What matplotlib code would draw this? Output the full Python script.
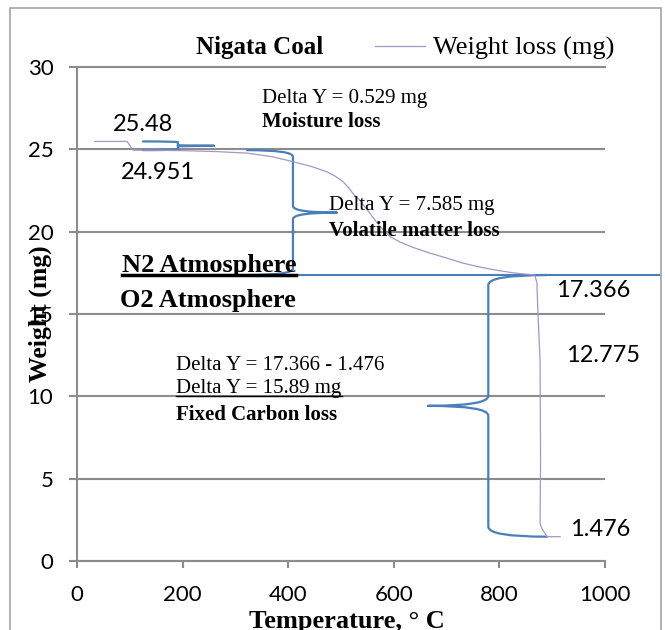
import matplotlib
matplotlib.use("Agg")
import matplotlib.pyplot as plt
from matplotlib.path import Path
from matplotlib.patches import PathPatch, Rectangle
from matplotlib.lines import Line2D

# TGA curve of Nigata coal
temperature = [34, 95, 106, 150, 200, 260, 322, 370, 409, 445, 473, 490, 504,
               515, 523, 536, 555, 574, 593, 613, 636, 668, 700, 730, 763, 796,
               826, 850, 867, 871, 873, 877, 878, 877, 880, 890, 915]
weight = [25.48, 25.48, 24.951, 24.94, 24.92, 24.87, 24.77, 24.55, 24.25, 23.95,
          23.64, 23.35, 23.03, 22.65, 22.3, 21.9, 21.1, 20.3, 19.7, 19.35, 19.05,
          18.7, 18.4, 18.1, 17.85, 17.65, 17.5, 17.42, 17.366, 16.9, 15.05, 12.2,
          6.1, 2.3, 2.0, 1.476, 1.476]

# characteristic weights (mg)
w_start = 25.48
w_dry = 24.951
w_char = 17.366
w_ash = 1.476

y_ticks = [0, 5, 10, 15, 20, 25, 30]
x_ticks = [0, 200, 400, 600, 800, 1000]

SERIF = "Liberation Serif"
SANS = "Lato"
GRID = "#8c8c8c"
BLUE = "#4a7ebb"
PURPLE = "#a397c6"


def draw_brace(ax, x_line, x_arm, x_tip, y_top, y_bot, ry):
    y_mid = (y_top + y_bot) / 2
    verts = [(x_arm, y_top), (x_line, y_top), (x_line, y_top - ry),
             (x_line, y_mid + ry), (x_line, y_mid), (x_tip, y_mid),
             (x_arm, y_bot), (x_line, y_bot), (x_line, y_bot + ry),
             (x_line, y_mid - ry), (x_line, y_mid), (x_tip, y_mid)]
    codes = [Path.MOVETO, Path.CURVE3, Path.CURVE3,
             Path.LINETO, Path.CURVE3, Path.CURVE3] * 2
    patch = PathPatch(Path(verts, codes), fill=False, edgecolor=BLUE,
                      linewidth=1.6, capstyle="round", zorder=3)
    patch.set_clip_on(False)
    ax.add_patch(patch)


fig = plt.figure(figsize=(6.65, 6.3), dpi=100)
ax = fig.add_axes([77 / 665, 1 - 561 / 630, 528 / 665, 494 / 630])

ax.plot(temperature, weight, color=PURPLE, linewidth=0.9, label="Weight loss (mg)", zorder=4)
ax.plot([138, 1104], [w_char, w_char], color=BLUE, linewidth=1.5, clip_on=False, zorder=3)

draw_brace(ax, 191, 125, 259, w_start, w_dry, 0.05)
draw_brace(ax, 409, 322, 492, w_dry, w_char, 0.4)
draw_brace(ax, 779, 890, 665, w_char, w_ash, 0.6)

ax.set_xlim(0, 1000)
ax.set_ylim(0, 30)
ax.set_xticks(x_ticks)
ax.set_yticks(y_ticks)
ax.set_axisbelow(True)
ax.yaxis.grid(True, color=GRID, linewidth=1.5)
for side in ["left", "bottom", "top"]:
    ax.spines[side].set_color(GRID)
    ax.spines[side].set_linewidth(1.5)
ax.spines["right"].set_visible(False)
ax.tick_params(axis="y", direction="out", length=6, width=1.5, color=GRID, pad=11)
ax.tick_params(axis="x", direction="out", length=5, width=1.5, color=GRID, pad=12)
for lab in ax.get_xticklabels() + ax.get_yticklabels():
    lab.set_fontfamily(SANS)
    lab.set_fontsize(16)

# titles, legend and axis labels
ax.text(0.345, 1.040, "Nigata Coal", transform=ax.transAxes, ha="center", va="center",
        family=SERIF, fontsize=18, fontweight="bold")
ax.legend(loc="center left", bbox_to_anchor=(0.564, 1.038), frameon=False,
          handlelength=1.9, handletextpad=0.3, borderpad=0, borderaxespad=0,
          prop=dict(family=SERIF, size=19))
ax.text(-0.07, 0.5, "Weight (mg)", transform=ax.transAxes, rotation=90,
        ha="center", va="center", family=SERIF, fontsize=18.5, fontweight="bold")
ax.text(0.511, -0.1, "Temperature, \u00b0 C", transform=ax.transAxes, ha="center", va="top",
        family=SERIF, fontsize=19, fontweight="bold")


# annotations
def note(x, y, s, bold=False, size=15, family=SERIF):
    return ax.text(x, y, s, ha="left", va="center", family=family, fontsize=size,
                   fontweight="bold" if bold else "normal", clip_on=False, zorder=5)


note(350, 28.1, "Delta Y = 0.529 mg")
note(350, 26.65, "Moisture loss", bold=True)
note(68, 26.5, "25.48", size=17, family=SANS)
note(83, 23.6, "24.951", size=17, family=SANS)
note(477, 21.6, "Delta Y = 7.585 mg")
note(477, 20.05, "Volatile matter loss", bold=True)
t_n2 = note(85, 17.97, "N2 Atmosphere", bold=True, size=19)
note(81, 15.8, "O2 Atmosphere", bold=True, size=19)
note(907, 16.45, "17.366", size=17, family=SANS)
note(926, 12.5, "12.775", size=17, family=SANS)
note(934, 1.9, "1.476", size=17, family=SANS)
note(188, 11.9, "Delta Y = 17.366 - 1.476")
t_dy = note(188, 10.5, "Delta Y = 15.89 mg")
note(188, 8.86, "Fixed Carbon loss", bold=True)

# underlines below two of the notes
fig.canvas.draw()
renderer = fig.canvas.get_renderer()
for t, lw in [(t_n2, 2.5), (t_dy, 1.0)]:
    bb = t.get_window_extent(renderer).transformed(fig.transFigure.inverted())
    y = bb.y0 + 1.5 / 630
    fig.add_artist(Line2D([bb.x0, bb.x1], [y, y], transform=fig.transFigure,
                          color="black", linewidth=lw))

# chart-area border
fig.patches.append(Rectangle((10 / 665, -0.05), 651 / 665, 1 - 8 / 630 + 0.05,
                             transform=fig.transFigure, fill=False,
                             edgecolor="#a6a6a6", linewidth=1.2))

fig.savefig("out.png", dpi=100)
